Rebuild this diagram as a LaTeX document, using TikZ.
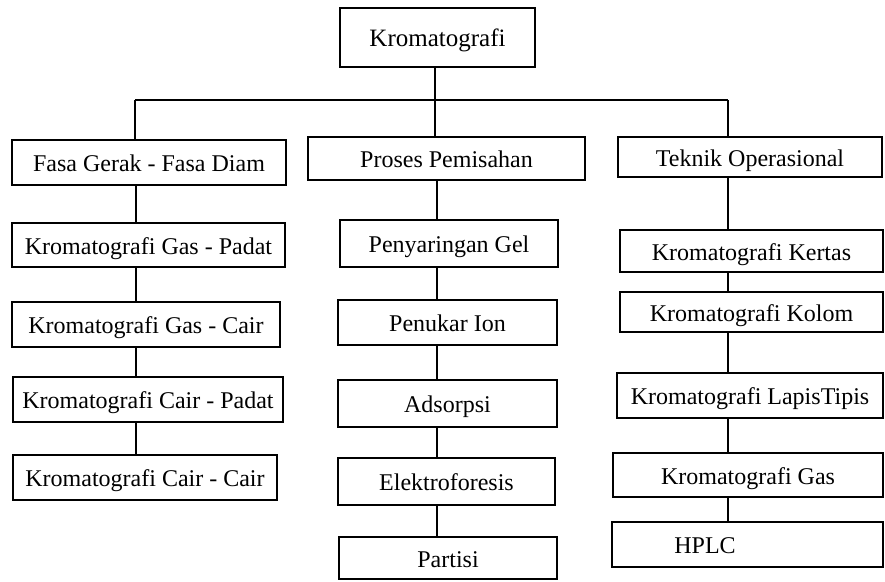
\documentclass[tikz,border=0pt]{standalone}
\usepackage{fontspec}
\setmainfont{Liberation Serif}
\begin{document}
\begin{tikzpicture}[x=1pt,y=-1pt,
  box/.style={draw, line width=1.3pt, inner sep=0pt, text height=18pt, text depth=0pt,
    font=\fontsize{24}{28}\selectfont},
  conn/.style={line width=1.3pt}]
\useasboundingbox[fill=white] (0,0) rectangle (885,581);
% root
\node[box, minimum width=195, minimum height=59, font=\fontsize{25}{29}\selectfont] (root) at (437.5,37.5) {Kromatografi};
% left column
\node[box, minimum width=274, minimum height=45] (fg) at (149,162.5) {Fasa Gerak - Fasa Diam};
\node[box, minimum width=273, minimum height=44] (kgp) at (148.5,245) {Kromatografi Gas - Padat};
\node[box, minimum width=268, minimum height=45] (kgc) at (146,324.5) {Kromatografi Gas - Cair};
\node[box, minimum width=270, minimum height=45] (kcp) at (148,399.5) {Kromatografi Cair - Padat};
\node[box, minimum width=264, minimum height=45] (kcc) at (145,477.5) {Kromatografi Cair - Cair};
% middle column
\node[box, minimum width=277, minimum height=43] (pp) at (446.5,158.5) {Proses Pemisahan};
\node[box, minimum width=218, minimum height=47] (pg) at (449,243.5) {Penyaringan Gel};
\node[box, minimum width=219, minimum height=45] (pi) at (447.5,322.5) {Penukar Ion};
\node[box, minimum width=219, minimum height=47] (ads) at (447.5,403.5) {Adsorpsi};
\node[box, minimum width=217, minimum height=47] (el) at (446.5,481.5) {Elektroforesis};
\node[box, minimum width=218, minimum height=42] (pa) at (448,558) {Partisi};
% right column
\node[box, minimum width=264, minimum height=40] (to) at (750,157) {Teknik Operasional};
\node[box, minimum width=263, minimum height=42] (kk) at (751.5,251) {Kromatografi Kertas};
\node[box, minimum width=263, minimum height=40] (kkol) at (751.5,312) {Kromatografi Kolom};
\node[box, minimum width=266, minimum height=45] (klt) at (750,395.5) {Kromatografi LapisTipis};
\node[box, minimum width=270, minimum height=44] (kg) at (748,475) {Kromatografi Gas};
\node[box, minimum width=271, minimum height=45] (hplc) at (747.5,544.5) {HPLC\hspace*{85pt}};
% connector coordinates
\coordinate (bus) at (435,100);
\coordinate (busL) at (135,100);
\coordinate (busR) at (728,100);
\coordinate (xL) at (136,0);
\coordinate (xM) at (437,0);
\coordinate (xR) at (728,0);
% tree bus
\draw[conn] (root.south -| bus) -- (bus);
\draw[conn] (busL) -- (busR);
\draw[conn] (busL) -- (fg.north -| busL);
\draw[conn] (bus) -- (pp.north -| bus);
\draw[conn] (busR) -- (to.north -| busR);
% left chain
\draw[conn] (fg.south -| xL) -- (kgp.north -| xL);
\draw[conn] (kgp.south -| xL) -- (kgc.north -| xL);
\draw[conn] (kgc.south -| xL) -- (kcp.north -| xL);
\draw[conn] (kcp.south -| xL) -- (kcc.north -| xL);
% middle chain
\draw[conn] (pp.south -| xM) -- (pg.north -| xM);
\draw[conn] (pg.south -| xM) -- (pi.north -| xM);
\draw[conn] (pi.south -| xM) -- (ads.north -| xM);
\draw[conn] (ads.south -| xM) -- (el.north -| xM);
\draw[conn] (el.south -| xM) -- (pa.north -| xM);
% right chain
\draw[conn] (to.south -| xR) -- (kk.north -| xR);
\draw[conn] (kk.south -| xR) -- (kkol.north -| xR);
\draw[conn] (kkol.south -| xR) -- (klt.north -| xR);
\draw[conn] (klt.south -| xR) -- (kg.north -| xR);
\draw[conn] (kg.south -| xR) -- (hplc.north -| xR);
\end{tikzpicture}
\end{document}
